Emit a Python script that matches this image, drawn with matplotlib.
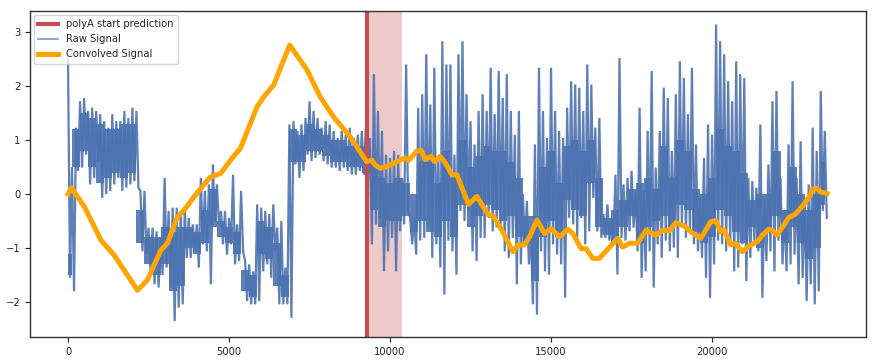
import numpy as np
import matplotlib
matplotlib.use("Agg")
import matplotlib.pyplot as plt

# ---------------- data ----------------
# raw signal envelope, one pair per 125 samples (upper / lower reading)
raw_step = 125
raw_upper = [
    2.50, 0.50, 1.23, 1.72, 1.78, 1.54, 1.60, 1.54, 1.48, 1.35,
    1.23, 1.48, 1.35, 1.35, 1.54, 1.41, 1.60, 1.54, 0.06, 0.06,
    -0.62, -0.62, -0.69, -0.80, 0.30, -0.31, -0.25, -0.25, -0.31, -0.25,
    -0.44, -0.56, -0.56, 0.30, 0.06, 0.18, 0.55, 0.18, -0.31, -0.31,
    -0.44, 0.36, -0.56, 0.06, -1.24, -1.30, -1.43, -0.19, -0.25, -0.31,
    -0.37, -0.19, -0.62, -0.50, -1.36, 1.29, 1.35, 1.17, 1.29, 1.41,
    1.72, 1.54, 1.41, 1.23, 1.35, 1.29, 1.17, 1.04, 1.17, 1.10,
    1.23, 1.04, 1.10, 1.17, 1.23, 1.04, 2.22, 1.54, 1.17, 0.73,
    0.67, 0.80, 0.73, 0.30, 2.40, -0.44, -0.44, 1.60, 1.85, 2.59,
    1.66, 2.34, 0.67, 2.83, 2.40, 2.40, 0.73, 2.59, 2.83, 1.85,
    1.35, 0.92, 1.54, 1.85, 1.54, 2.34, 1.48, 2.28, 1.78, 2.22,
    1.54, 1.10, 1.54, 0.00, -0.13, -0.69, 0.92, 2.34, 1.54, 1.04,
    2.34, 1.54, 1.17, 1.04, 1.60, 2.09, 2.03, 1.97, 1.54, 2.40,
    2.03, 1.23, 1.41, -0.37, -0.19, -0.44, 0.36, 2.52, 0.18, 0.30,
    0.43, 0.06, 1.60, 0.06, 1.17, 2.28, 0.49, 1.17, 1.97, 1.78,
    0.80, 1.85, 2.46, 2.15, 1.48, 2.34, 0.92, -0.07, 0.67, 1.29,
    1.10, 3.14, 2.83, 2.59, 2.09, 1.72, 2.46, 2.22, 2.15, 0.30,
    0.24, 0.12, 1.29, -0.07, 0.55, 1.72, 1.91, 0.30, -0.31, 0.92,
    2.09, 0.30, 0.98, -0.07, 0.18, 1.23, 0.80, 1.91, 1.17,
]
raw_lower = [
    -1.55, -1.80, 0.43, 0.49, 0.73, 0.18, 0.30, 0.61, -0.07, 0.00,
    0.06, 0.18, 0.30, 0.06, 0.12, 0.18, 0.24, 0.12, -1.06, -1.12,
    -1.43, -1.67, -1.73, -1.50, -1.36, -1.73, -2.35, -2.10, -2.04, -1.18,
    -1.18, -1.06, -1.36, -0.93, -1.06, -1.67, -0.50, -0.56, -0.93, -1.12,
    -0.93, -1.30, -1.24, -1.06, -1.98, -2.04, -2.04, -1.98, -1.43, -1.30,
    -1.55, -1.06, -2.04, -2.04, -2.04, -2.29, 0.55, 0.30, 0.43, 0.73,
    0.61, 0.67, 0.73, 0.61, 0.55, 0.49, 0.49, 0.43, 0.49, 0.43,
    0.36, 0.36, 0.43, 0.36, 0.24, -0.93, -0.56, -0.44, -1.43, -1.06,
    -0.81, -1.43, -0.69, -0.56, -0.31, -0.93, -1.12, -0.86, -0.81, -0.62,
    -1.18, -0.93, -1.36, -1.86, -0.86, -1.06, -1.49, -0.31, -0.50, -0.31,
    -1.06, -1.24, -0.81, -0.81, -0.44, -0.69, -0.62, -0.56, -1.06, -1.18,
    -0.81, -1.67, -1.30, -0.93, -1.30, -2.04, -2.23, -1.06, -1.43, -1.49,
    -0.93, -1.12, -1.30, -1.92, -0.44, -0.56, -0.81, -0.44, -0.93, -0.69,
    -0.07, -0.69, -0.81, -0.81, -0.86, -0.86, -1.49, -0.81, -0.86, -0.69,
    -0.62, -1.06, -1.55, -1.43, -1.06, -1.73, -0.93, -1.18, -0.86, -1.06,
    -0.99, -1.18, -0.62, -0.81, -0.69, -0.93, -1.06, -1.18, -1.55, -1.92,
    -1.30, -0.86, -0.93, -1.06, -0.93, -1.43, -1.36, -0.93, -1.61, -1.18,
    -0.86, -1.06, -1.92, -1.24, -1.06, -1.43, -0.86, -1.30, -1.43, -1.30,
    -1.12, -1.67, -1.55, -1.98, -1.67, -2.04, -1.80, -0.31, -0.44,
]

# dense core of the raw signal, one reading per 250 samples
core_step = 250
core_low = [
    -1.5, 0.5, 0.8, 0.5, 0.2, 0.3, 0.4, 0.3, 0.4, -0.9,
    -1.3, -1.5, -1.3, -1.8, -1.7, -1.0, -1.1, -0.9, -0.6, -0.8,
    -0.9, -1.1, -1.8, -1.9, -1.1, -1.2, -1.7, -1.9, 0.6, 0.6,
    0.8, 0.8, 0.7, 0.6, 0.6, 0.5, 0.5, 0.4, -0.3, -0.6,
    -0.5, -0.5, -0.4, -0.7, -0.5, -0.7, -0.8, -0.5, -0.8, -0.2,
    -0.6, -0.4, -0.2, -0.3, -0.5, -0.4, -0.8, -0.9, -1.6, -0.8,
    -0.5, -0.8, -0.1, -0.3, -0.4, 0.2, -0.6, -0.75, -0.9, -0.6,
    -0.4, -0.9, -0.6, -0.5, -0.4, -0.6, -0.2, -0.3, -0.7, -0.9,
    -0.8, -0.3, -0.4, -0.7, -0.9, -0.6, -1.0, -0.7, -0.4, -0.9,
    -0.6, -0.9, -1.2, -1.0, -0.2,
]
core_high = [
    -1.1, 1.2, 1.5, 1.4, 1.3, 1.2, 1.2, 1.3, 1.3, -0.3,
    -0.8, -0.8, -0.6, -0.7, -0.6, -0.6, -0.7, -0.3, 0.1, -0.5,
    -0.6, -0.7, -1.4, -1.5, -0.5, -0.6, -0.9, -1.5, 1.2, 1.1,
    1.3, 1.2, 1.1, 1.0, 1.0, 0.9, 0.9, 0.9, 0.6, 0.3,
    0.2, 0.3, 0.2, 0.0, 0.6, 0.6, 0.2, 0.8, 0.3, 1.0,
    0.5, 0.7, 0.9, 0.8, 0.8, 0.6, 0.3, -0.4, -0.4, 0.5,
    0.8, 0.2, 0.9, 1.0, 0.8, 1.0, 0.3, -0.45, -0.3, -0.1,
    0.1, 0.2, 0.3, 0.1, 0.9, 0.3, 1.0, 0.8, 0.1, 0.0,
    0.3, 1.2, 0.9, 0.8, 0.4, -0.1, 0.0, 0.0, 0.8, -0.3,
    0.5, 0.0, -0.3, 0.0, 0.6,
]

# convolved signal
conv_x = [0, 100, 506, 1022, 1434, 2157, 2467, 2880, 3086, 3396, 3602, 4015,
          4427, 4737, 5047, 5356, 5873, 6078, 6388, 6884, 7420, 7833, 8246,
          8762, 9278, 9433, 9536, 9690, 9897, 10103, 10310, 10475, 10578,
          10836, 10970, 11094, 11280, 11383, 11558, 11713, 11920, 12075,
          12230, 12436, 12693, 12848, 13054, 13209, 13468, 13817, 13972,
          14179, 14334, 14561, 14799, 15005, 15263, 15521, 15676, 15934,
          16089, 16295, 16502, 17068, 17223, 17430, 17688, 17946, 18256,
          18462, 18669, 18876, 19133, 19391, 19649, 19959, 20114, 20269,
          20372, 20578, 20733, 20939, 21145, 21403, 21558, 21764, 21867,
          22022, 22383, 22590, 22848, 23054, 23106, 23261, 23364, 23570]
conv_y = [0.0, 0.12, -0.23, -0.85, -1.13, -1.78, -1.59, -1.04, -0.91, -0.42,
          -0.30, 0.03, 0.32, 0.38, 0.63, 0.85, 1.62, 1.80, 2.02, 2.76, 2.30,
          1.80, 1.43, 1.06, 0.60, 0.63, 0.54, 0.48, 0.51, 0.57, 0.63, 0.67,
          0.62, 0.80, 0.81, 0.64, 0.70, 0.60, 0.70, 0.58, 0.36, 0.36, 0.12,
          -0.19, -0.04, -0.19, -0.38, -0.41, -0.66, -1.07, -0.94, -0.94,
          -0.79, -0.48, -0.73, -0.64, -0.79, -0.65, -0.73, -1.01, -1.01,
          -1.19, -1.19, -0.82, -0.98, -0.91, -0.91, -0.67, -0.76, -0.67,
          -0.68, -0.53, -0.59, -0.72, -0.82, -0.51, -0.49, -0.70, -0.66,
          -0.94, -0.91, -1.07, -0.96, -0.88, -0.76, -0.65, -0.67, -0.76,
          -0.43, -0.37, -0.19, -0.02, 0.09, 0.11, 0.04, 0.01]

polya_start = 9300
polya_end = 10380

x_ticks = [0, 5000, 10000, 15000, 20000]
y_ticks = [-2, -1, 0, 1, 2, 3]

# ---------------- build raw line (alternate upper / lower readings) ----------------
n = len(raw_upper)
base = np.arange(n) * raw_step
raw_x = np.empty(2 * n)
raw_y = np.empty(2 * n)
raw_x[0::2] = base
raw_x[1::2] = base + raw_step / 2
raw_y[0::2] = raw_upper
raw_y[1::2] = raw_lower
core_x = np.arange(len(core_low)) * core_step

# ---------------- plot ----------------
dark = "#262626"
blue = "#4C72B0"
plt.rcParams["font.family"] = ["DejaVu Sans"]
fig = plt.figure(figsize=(8.76, 3.61), dpi=100)
ax = fig.add_axes([30 / 876, 24 / 361, 836 / 876, 326 / 361])

ax.axvspan(polya_start, polya_end, color="#C44E52", alpha=0.3, lw=0, zorder=1)
ax.fill_between(core_x, core_low, core_high, step="mid", color=blue,
                alpha=0.9, lw=0, zorder=1.8)
ax.plot(raw_x, raw_y, color=blue, lw=1.6, alpha=0.9,
        solid_joinstyle="miter", label="Raw Signal", zorder=2)
ax.axvline(polya_start, color="#C44E52", lw=3.0, label="polyA start prediction", zorder=2.5)
ax.plot(conv_x, conv_y, color="orange", lw=3.6, label="Convolved Signal", zorder=3)

ax.set_xlim(-1180, 24780)
ax.set_ylim(-2.645, 3.39)
ax.set_xticks(x_ticks)
ax.set_yticks(y_ticks)
ax.tick_params(labelsize=7.2, colors=dark, length=3.5, width=0.8)
for s in ax.spines.values():
    s.set_color("#333333")
    s.set_linewidth(1.0)

h, l = ax.get_legend_handles_labels()
order = [1, 0, 2]
leg = ax.legend([h[i] for i in order], [l[i] for i in order], loc="upper left",
                fontsize=7.2, frameon=True, fancybox=True, framealpha=0.8,
                edgecolor="#cccccc", borderpad=0.45, labelspacing=0.5,
                handlelength=2.0, handletextpad=0.8, borderaxespad=0.35)
leg.legend_handles[1].set_linewidth(1.3)
leg.legend_handles[1].set_alpha(0.7)
for t in leg.get_texts():
    t.set_color(dark)

fig.savefig("out.png", dpi=100)
